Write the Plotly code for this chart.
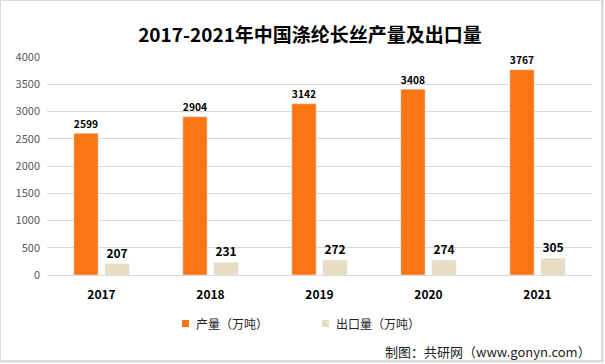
import plotly.graph_objects as go

years = ["2017", "2018", "2019", "2020", "2021"]
production = [2599, 2904, 3142, 3408, 3767]
exports = [207, 231, 272, 274, 305]
y_ticks = [0, 500, 1000, 1500, 2000, 2500, 3000, 3500, 4000]
series_names = ["产量（万吨）", "出口量（万吨）"]
series_colors = ["#FA7513", "#E8DCC3"]

W, H = 605, 364
L, R, T, B = 47, 13, 57, 89
pw, ph = W - L - R, H - T - B

def px(x):
    return (x - L) / pw

def py(y):
    return (H - B - y) / ph

font_cjk = "Microsoft YaHei, Noto Sans CJK SC, sans-serif"

fig = go.Figure()
for vals, name, col in zip([production, exports], series_names, series_colors):
    fig.add_bar(x=years, y=vals, name=name, marker_color=col,
                text=vals, textposition="outside", cliponaxis=False,
                textfont=dict(size=12, color="#000", family=font_cjk, weight="bold"))

annotations = [dict(text="制图：共研网（www.gonyn.com）", xref="paper", yref="paper",
                    x=px(383), xanchor="left", y=py(351), yanchor="middle",
                    showarrow=False, font=dict(size=13, color="#222", family=font_cjk))]
shapes = [
    dict(type="rect", xref="paper", yref="paper",
         x0=px(0.5), x1=px(601.5), y0=py(360.5), y1=py(0.5),
         line=dict(color="#d9d9d9", width=1), layer="below"),
    dict(type="line", xref="paper", yref="paper",
         x0=px(602.5), x1=px(602.5), y0=py(0), y1=py(362),
         line=dict(color="#d9d9d9", width=2)),
    dict(type="line", xref="paper", yref="paper",
         x0=px(0), x1=px(603.5), y0=py(361.5), y1=py(361.5),
         line=dict(color="#d9d9d9", width=2)),
]
# manual legend
for (sx, tx), name, col in zip([(182, 194), (322, 334)], series_names, series_colors):
    shapes.append(dict(type="rect", xref="paper", yref="paper",
                       x0=px(sx), x1=px(sx + 7), y0=py(327), y1=py(320),
                       fillcolor=col, line=dict(width=0)))
    annotations.append(dict(text=name, xref="paper", yref="paper", x=px(tx), xanchor="left",
                            y=py(323.5), yanchor="middle", showarrow=False,
                            font=dict(size=12, color="#222", family=font_cjk)))

fig.update_layout(
    width=W, height=H,
    margin=dict(l=L, r=R, t=T, b=B),
    paper_bgcolor="white", plot_bgcolor="white",
    barmode="group", bargap=0.43, bargroupgap=0.22,
    font=dict(family=font_cjk),
    title=dict(text="<b>2017-2021年中国涤纶长丝产量及出口量</b>", x=310 / W, xanchor="center",
               y=1 - 35 / H, yanchor="middle", font=dict(size=19, color="#000", family=font_cjk)),
    showlegend=False,
    xaxis=dict(showgrid=False, showline=True, linecolor="#d9d9d9", linewidth=1,
               tickfont=dict(size=12, color="#000", family=font_cjk, weight="bold"),
               ticks="", ticklabelstandoff=9),
    yaxis=dict(range=[0, 4000], tickvals=y_ticks, showgrid=True, gridcolor="#d9d9d9",
               zeroline=False, tickfont=dict(size=11, color="#595959", family=font_cjk),
               ticks="", ticklabelstandoff=6),
    annotations=annotations,
    shapes=shapes,
)

fig.write_html("out.html", config={"displayModeBar": False},
               post_script="document.body.style.margin='0';document.body.style.overflow='hidden';")
